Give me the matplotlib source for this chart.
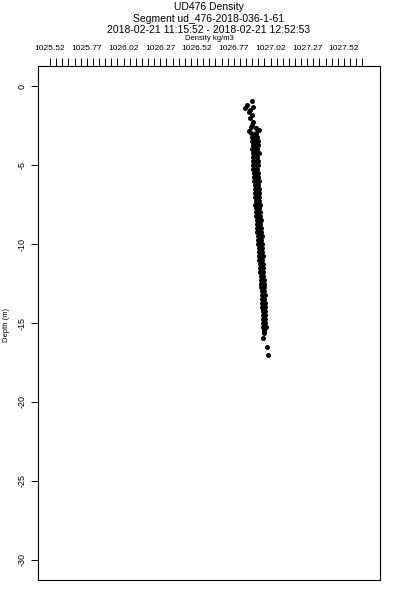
import numpy as np
import matplotlib
matplotlib.use('Agg')
import matplotlib.pyplot as plt
from matplotlib.ticker import FixedLocator, NullFormatter


plt.rcParams['font.family'] = ['Liberation Sans', 'DejaVu Sans']

title_lines = ['UD476 Density',
               'Segment ud_476-2018-036-1-61',
               '2018-02-21 11:15:52 - 2018-02-21 12:52:53']
x_label = 'Density kg/m3'
y_label = 'Depth (m)'

x_tick_labels = ['1025.52', '1025.77', '1026.02', '1026.27', '1026.52',
                 '1026.77', '1027.02', '1027.27', '1027.52']
y_ticks = [0, -5, -10, -15, -20, -25, -30]

# upper part of the cast (sparse)
depth_top = [-0.95, -1.20, -1.39, -1.52, -1.33, -1.84, -2.00, -1.65, -2.28,
             -2.45, -2.60, -2.85, -2.66, -2.78]
density_top = [1026.892, 1026.858, 1026.847, 1026.880, 1026.900, 1026.892,
               1026.880, 1026.872, 1026.900, 1026.893, 1026.888, 1026.875,
               1026.920, 1026.942]

# main body, three points per level (left edge, right edge, middle)
depth_main = [-3.00, -3.25, -3.50, -3.75, -4.00, -4.25, -4.50, -4.75, -5.00,
              -5.25, -5.50, -5.75, -6.00, -6.25, -6.50, -6.75, -7.00, -7.25,
              -7.50, -7.75, -8.00, -8.25, -8.50, -8.75, -9.00, -9.25, -9.50,
              -9.75, -10.00, -10.25, -10.50, -10.75, -11.00, -11.25, -11.50,
              -11.75, -12.00, -12.25, -12.50, -12.75, -13.00, -13.25, -13.50,
              -13.75, -14.00, -14.25, -14.50, -14.75, -15.00, -15.25]
depth_mid = [-3.12, -3.37, -3.62, -3.87, -4.12, -4.37, -4.62, -4.87, -5.12,
             -5.37, -5.62, -5.87, -6.12, -6.37, -6.62, -6.87, -7.12, -7.37,
             -7.62, -7.87, -8.12, -8.37, -8.62, -8.87, -9.12, -9.37, -9.62,
             -9.87, -10.12, -10.37, -10.62, -10.87, -11.12, -11.37, -11.62,
             -11.87, -12.12, -12.37, -12.62, -12.87, -13.12, -13.37, -13.62,
             -13.87, -14.12, -14.37, -14.62, -14.87, -15.12, -15.37]
density_left = [1026.886, 1026.893, 1026.891, 1026.898, 1026.896, 1026.903,
                1026.898, 1026.901, 1026.903, 1026.898, 1026.906, 1026.908,
                1026.910, 1026.913, 1026.912, 1026.916, 1026.915, 1026.918,
                1026.917, 1026.920, 1026.923, 1026.922, 1026.925, 1026.927,
                1026.928, 1026.931, 1026.933, 1026.935, 1026.938, 1026.940,
                1026.942, 1026.943, 1026.945, 1026.948, 1026.949, 1026.951,
                1026.953, 1026.954, 1026.956, 1026.958, 1026.959, 1026.961,
                1026.962, 1026.964, 1026.965, 1026.966, 1026.968, 1026.969,
                1026.970, 1026.972]
density_right = [1026.922, 1026.927, 1026.932, 1026.937, 1026.930, 1026.942,
                 1026.927, 1026.932, 1026.937, 1026.930, 1026.937, 1026.935,
                 1026.942, 1026.938, 1026.944, 1026.940, 1026.945, 1026.942,
                 1026.947, 1026.944, 1026.950, 1026.946, 1026.952, 1026.949,
                 1026.955, 1026.952, 1026.959, 1026.957, 1026.960, 1026.964,
                 1026.962, 1026.967, 1026.965, 1026.970, 1026.968, 1026.972,
                 1026.971, 1026.975, 1026.974, 1026.978, 1026.976, 1026.980,
                 1026.979, 1026.982, 1026.981, 1026.984, 1026.982, 1026.985,
                 1026.984, 1026.987]
density_mid = [1026.906, 1026.908, 1026.915, 1026.914, 1026.916, 1026.920,
               1026.913, 1026.918, 1026.921, 1026.916, 1026.922, 1026.920,
               1026.927, 1026.924, 1026.930, 1026.927, 1026.931, 1026.929,
               1026.933, 1026.931, 1026.937, 1026.935, 1026.939, 1026.937,
               1026.942, 1026.941, 1026.946, 1026.945, 1026.950, 1026.951,
               1026.953, 1026.954, 1026.956, 1026.958, 1026.959, 1026.961,
               1026.962, 1026.965, 1026.964, 1026.968, 1026.967, 1026.971,
               1026.970, 1026.973, 1026.972, 1026.976, 1026.975, 1026.977,
               1026.978, 1026.979]

# bottom of the cast
depth_bottom = [-15.50, -15.65, -15.95, -16.50, -17.05]
density_bottom = [1026.977, 1026.974, 1026.971, 1026.994, 1027.005]

depth = depth_top + depth_main + depth_main + depth_mid + depth_bottom
density = density_top + density_left + density_right + density_mid + density_bottom

fig = plt.figure(figsize=(4, 6), dpi=100)
ax = fig.add_axes([38 / 400, 1 - 580 / 600, 342 / 400, 514 / 600])

ax.scatter(density, depth, s=13, c='black', marker='o', linewidths=0)

ax.set_xlim(1025.438, 1027.765)
ax.set_ylim(-31.27, 1.27)

major_x = [float(t) for t in x_tick_labels]
minor_x = [1025.52 + k * 0.25 / 6 for k in range(52)]
ax.xaxis.set_major_locator(FixedLocator(major_x))
ax.xaxis.set_minor_locator(FixedLocator(minor_x))
ax.set_xticklabels(x_tick_labels)
ax.xaxis.set_minor_formatter(NullFormatter())
ax.xaxis.tick_top()
ax.tick_params(axis='x', which='both', direction='out', length=6, width=0.7,
               labelsize=6, pad=4)

ax.set_yticks(y_ticks)
ax.set_yticklabels([str(t) for t in y_ticks], rotation=90, va='center')
ax.tick_params(axis='y', direction='out', length=5, width=0.7, labelsize=6.5, pad=3)

for s in ax.spines.values():
    s.set_linewidth(0.8)

cx = 209 / 400
fig.text(cx, 1 - 7 / 600, title_lines[0], ha='center', va='center', fontsize=7.5)
fig.text(cx, 1 - 18.5 / 600, title_lines[1], ha='center', va='center', fontsize=7.5)
fig.text(cx, 1 - 30 / 600, title_lines[2], ha='center', va='center', fontsize=7.5)
fig.text(cx, 1 - 39 / 600, x_label, ha='center', va='center', fontsize=5.5)
fig.text(6 / 400, 1 - 325 / 600, y_label, ha='center', va='center',
         rotation=90, fontsize=5.5)

fig.savefig('out.png', dpi=100)
